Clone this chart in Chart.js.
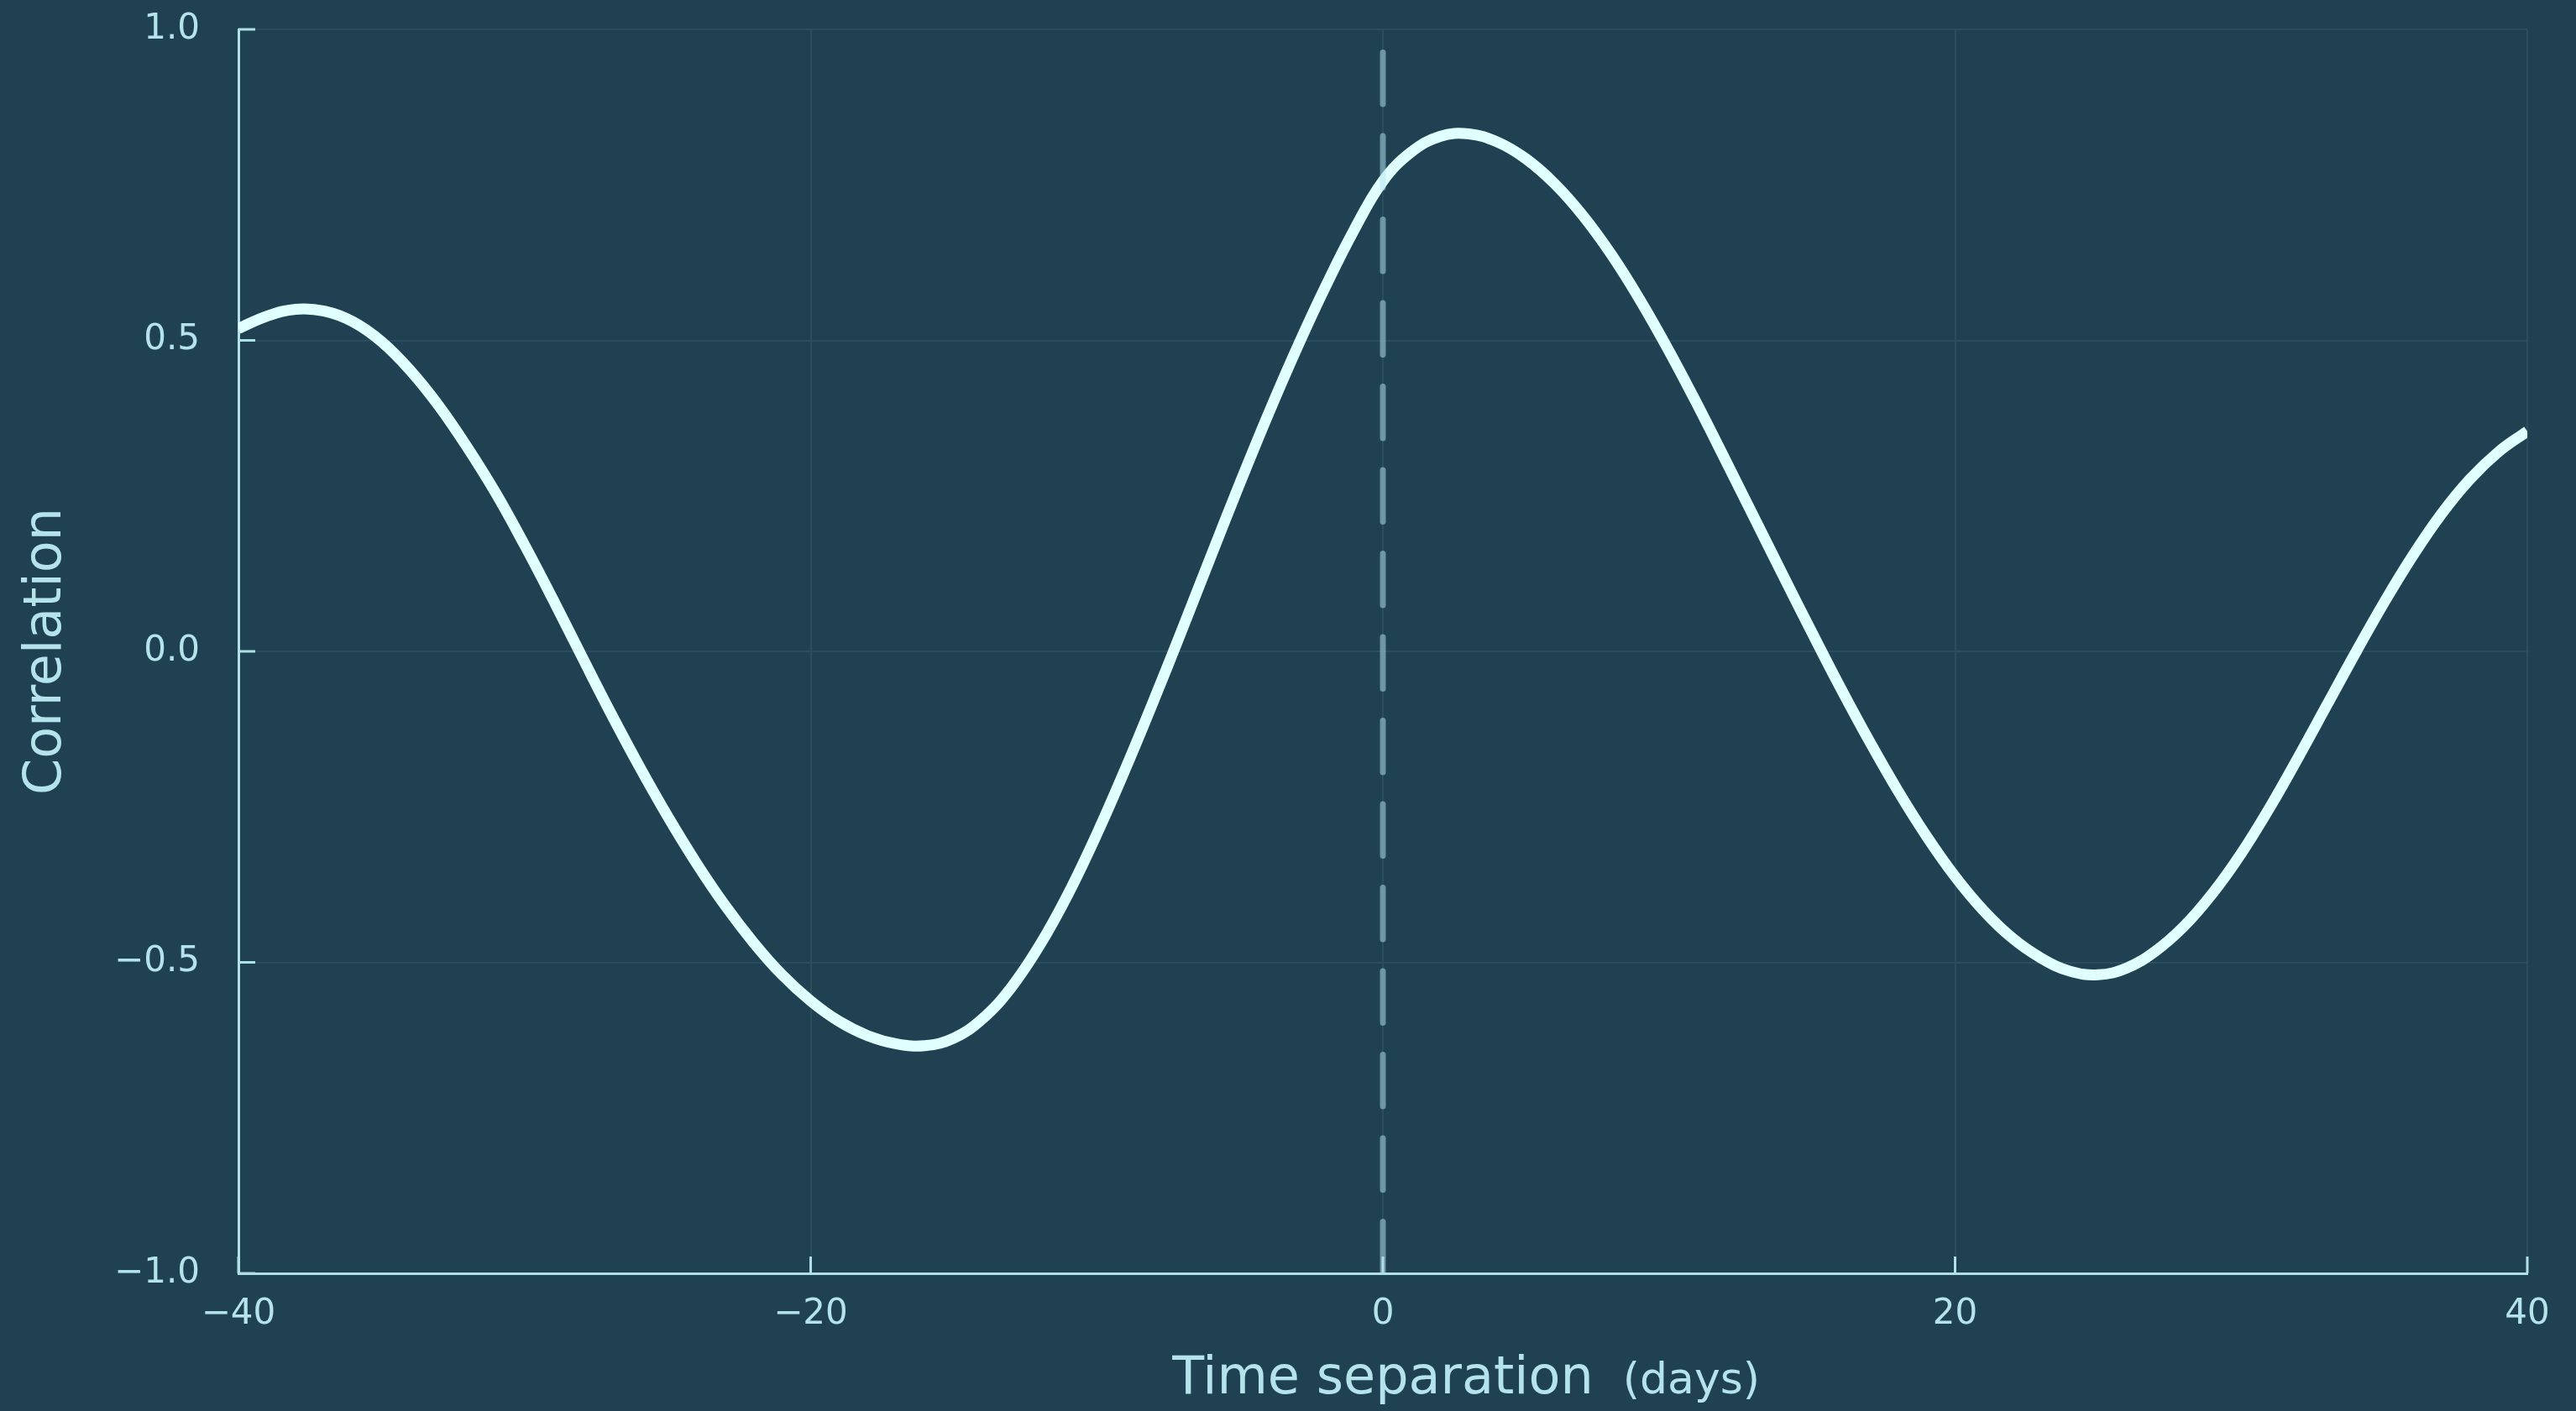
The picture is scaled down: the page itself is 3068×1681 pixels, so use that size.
<!DOCTYPE html>
<html>
<head>
<meta charset="utf-8">
<title>Correlation vs time separation</title>
<script src="https://cdn.jsdelivr.net/npm/chart.js@4.4.1/dist/chart.umd.min.js"></script>
<style>
  html, body { margin: 0; padding: 0; background: #1f4152; overflow: hidden; }
  #wrap { width: 3068px; height: 1681px; position: relative; }
</style>
</head>
<body>
<div id="wrap"><canvas id="chart"></canvas></div>
<script>
// Lag in days and the measured correlation at each lag
const lagDays = [
  -40, -39, -38, -37, -36, -35, -34, -33, -32, -31,
  -30, -29, -28, -27, -26, -25, -24, -23, -22, -21,
  -20, -19, -18, -17, -16, -15, -14, -13, -12, -11,
  -10, -9, -8, -7, -6, -5, -4, -3, -2, -1,
  0, 1, 2, 3, 4, 5, 6, 7, 8, 9,
  10, 11, 12, 13, 14, 15, 16, 17, 18, 19,
  20, 21, 22, 23, 24, 25, 26, 27, 28, 29,
  30, 31, 32, 33, 34, 35, 36, 37, 38, 39, 40
];
const correlation = [
  0.519, 0.539, 0.550, 0.547, 0.530, 0.498, 0.452, 0.395, 0.328, 0.254,
  0.171, 0.083, -0.008, -0.098, -0.184, -0.265, -0.340, -0.408, -0.468, -0.520,
  -0.562, -0.595, -0.618, -0.631, -0.634, -0.622, -0.591, -0.541, -0.473, -0.390,
  -0.294, -0.189, -0.078, 0.037, 0.154, 0.270, 0.382, 0.488, 0.587, 0.678,
  0.756, 0.803, 0.828, 0.832, 0.819, 0.792, 0.752, 0.700, 0.637, 0.564,
  0.483, 0.396, 0.305, 0.213, 0.121, 0.030, -0.059, -0.144, -0.224, -0.297,
  -0.362, -0.417, -0.461, -0.493, -0.514, -0.520, -0.509, -0.482, -0.442, -0.389,
  -0.325, -0.251, -0.170, -0.086, -0.002, 0.079, 0.154, 0.221, 0.277, 0.321, 0.354
];
// Zero-lag reference line, drawn from the bottom up
const zeroLagX = [0, 0];
const zeroLagY = [-1, 1];

const xTicks = [-40, -20, 0, 20, 40];
const yTicks = [-1.0, -0.5, 0.0, 0.5, 1.0];

const xTitle = 'Time separation';
const xUnit = '(days)';
const yTitle = 'Correlation';

const BG = '#1f4152';
const AXIS = '#b0e0e6';
const TEXT = '#b5e3eb';
const GRID = '#2b4e5f';
const CURVE = '#e0ffff';
const DASH = 'rgba(178, 226, 238, 0.52)';
const FONT = 'DejaVu Sans';

const minus = s => String(s).replace('-', '\u2212');

const bgPlugin = {
  id: 'bg',
  beforeDraw(chart) {
    const ctx = chart.ctx;
    ctx.save();
    ctx.fillStyle = BG;
    ctx.fillRect(0, 0, chart.width, chart.height);
    ctx.restore();
  }
};

// Inward tick marks along both axes plus the unit next to the x title
const axisExtras = {
  id: 'axisExtras',
  afterDraw(chart) {
    const ctx = chart.ctx;
    const xs = chart.scales.x, ys = chart.scales.y;
    const area = chart.chartArea;
    ctx.save();
    ctx.strokeStyle = AXIS;
    ctx.lineWidth = 3;
    ctx.lineCap = 'butt';
    ctx.beginPath();
    xTicks.forEach(v => {
      const px = xs.getPixelForValue(v);
      ctx.moveTo(px, area.bottom);
      ctx.lineTo(px, area.bottom - 20);
    });
    yTicks.forEach(v => {
      const py = ys.getPixelForValue(v);
      ctx.moveTo(area.left, py);
      ctx.lineTo(area.left + 20, py);
    });
    ctx.stroke();

    // unit label after the centred axis title
    ctx.font = '62px "' + FONT + '"';
    const titleW = ctx.measureText(xTitle).width;
    const cx = (area.left + area.right) / 2;
    ctx.font = '52px "' + FONT + '"';
    ctx.fillStyle = TEXT;
    ctx.textAlign = 'left';
    ctx.textBaseline = 'alphabetic';
    ctx.fillText(xUnit, cx + titleW / 2 + 35, 1660);
    ctx.restore();
  }
};

new Chart(document.getElementById('chart'), {
  type: 'line',
  data: {
    datasets: [
      {
        data: lagDays.map((d, i) => ({ x: d, y: correlation[i] })),
        borderColor: CURVE,
        borderWidth: 13,
        pointRadius: 0,
        tension: 0.4,
        clip: 0,
        order: 2
      },
      {
        data: zeroLagX.map((d, i) => ({ x: d, y: zeroLagY[i] })),
        borderColor: DASH,
        borderWidth: 7,
        borderDash: [61.5, 38],
        borderCapStyle: 'round',
        pointRadius: 0,
        clip: 0,
        order: 1
      }
    ]
  },
  options: {
    responsive: true,
    maintainAspectRatio: false,
    animation: false,
    devicePixelRatio: 1,
    layout: { padding: { top: 35, right: 58, left: 0, bottom: 0 } },
    plugins: { legend: { display: false }, tooltip: { enabled: false } },
    scales: {
      x: {
        type: 'linear',
        min: -40, max: 40,
        afterFit(scale) { scale.height = 164; },
        afterBuildTicks(scale) { scale.ticks = xTicks.map(v => ({ value: v })); },
        ticks: {
          color: TEXT,
          font: { family: FONT, size: 42 },
          padding: 24,
          maxRotation: 0,
          callback: v => minus(v)
        },
        grid: { color: GRID, lineWidth: 2, drawTicks: false },
        border: { display: true, color: AXIS, width: 3 },
        title: {
          display: true,
          text: xTitle,
          color: TEXT,
          font: { family: FONT, size: 62 },
          padding: { top: 0, bottom: 0 }
        }
      },
      y: {
        type: 'linear',
        min: -1, max: 1,
        afterFit(scale) {
          scale.width = 284;
          // keep the label padding from pushing the plot area inwards
          scale.paddingTop = 0;
          scale.paddingBottom = 0;
        },
        afterBuildTicks(scale) { scale.ticks = yTicks.map(v => ({ value: v })); },
        ticks: {
          color: TEXT,
          font: { family: FONT, size: 42 },
          padding: 46,
          callback: v => minus(Number(v).toFixed(1))
        },
        grid: { color: GRID, lineWidth: 2, drawTicks: false },
        border: { display: true, color: AXIS, width: 3 },
        title: {
          display: true,
          text: yTitle,
          color: TEXT,
          font: { family: FONT, size: 62 },
          padding: { top: 19, bottom: 0 }
        }
      }
    }
  },
  plugins: [bgPlugin, axisExtras]
});
</script>
</body>
</html>
